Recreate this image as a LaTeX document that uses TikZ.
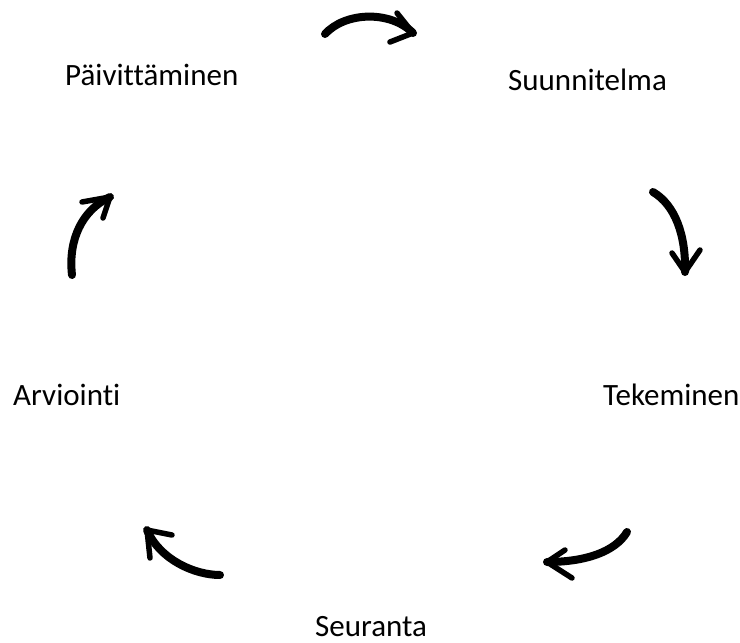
\documentclass[tikz,border=0pt]{standalone}
\usepackage{fontspec}
\setmainfont{Carlito}[Ligatures=NoCommon]
\usetikzlibrary{calc}

\begin{document}
\begin{tikzpicture}[x=1pt, y=-1pt, line cap=round, line join=round]
		
		\tikzset{
			lbl/.style={inner sep=0pt, anchor=base west, font=\fontsize{31}{36}\selectfont},
			brush/.style={line width=8pt},
			barb/.style={line width=5.5pt}
		}
		
		\useasboundingbox (0,0) rectangle (740,643);
		
		% the five steps
		\node[lbl] (paiv) at (65,85) {Päivittäminen};
		\node[lbl] (suun) at (508,90) {Suunnitelma};
		\node[lbl] (teke) at (603,405) {Tekeminen};
		\node[lbl] (seur) at (315,636) {Seuranta};
		\node[lbl] (arvi) at (13,405) {Arviointi};
		
		% top: Paivittaminen -> Suunnitelma
		\coordinate (t1) at (325,34);
		\coordinate (t2) at (413,33);
		\draw[brush] (t1) .. controls (345,12) and (390,10) .. (t2);
		\draw[barb] (397,13) -- (t2) -- (390,42);
		
		% right: Suunnitelma -> Tekeminen
		\coordinate (r1) at (653,192);
		\coordinate (r2) at (685,272);
		\draw[brush] (r1) .. controls (675,205) and (686,235) .. (r2);
		\draw[barb] (672,253) -- (r2) -- (700,250);
		
		% bottom right: Tekeminen -> Seuranta
		\coordinate (br1) at (627,532);
		\coordinate (br2) at (547,562);
		\draw[brush] (br1) .. controls (615,552) and (585,562) .. (br2);
		\draw[barb] (565,550) -- (br2) -- (572,578);
		
		% bottom left: Seuranta -> Arviointi
		\coordinate (bl1) at (220,575);
		\coordinate (bl2) at (147,530);
		\draw[brush] (bl1) .. controls (195,575) and (160,560) .. (bl2);
		\draw[barb] (172,535) -- (bl2) -- (150,558);
		
		% left: Arviointi -> Paivittaminen
		\coordinate (l1) at (72,275);
		\coordinate (l2) at (110,197);
		\draw[brush] (l1) .. controls (68,240) and (82,210) .. (l2);
		\draw[barb] (82,202) -- (l2) -- (103,218);
		
	\end{tikzpicture}
\end{document}
